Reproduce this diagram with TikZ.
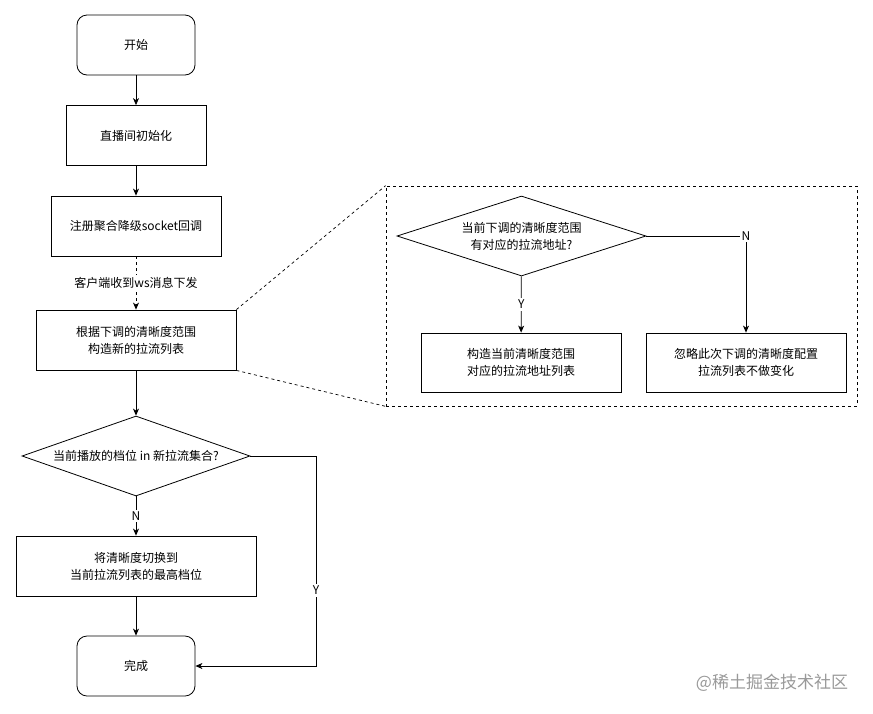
\documentclass[tikz,border=0pt]{standalone}
\usepackage{fontspec}
\newfontfamily\cjk{Noto Sans CJK SC}
\usetikzlibrary{shapes.geometric, arrows.meta, positioning, calc}

\begin{document}
\begin{tikzpicture}[
    x=1pt, y=-1pt,
    every node/.style={font=\cjk\fontsize{12}{17}\selectfont, align=center},
    startstop/.style={draw, rounded corners=10pt, minimum width=118pt, minimum height=60pt, line width=0.8pt},
    block/.style={draw, minimum height=60pt, line width=0.8pt},
    decision/.style={draw, diamond, inner sep=0pt, line width=0.8pt},
    arrow/.style={-{Stealth[length=7pt,width=6pt,inset=2pt]}, line width=0.8pt},
    dasharrow/.style={arrow, dash pattern=on 3pt off 3pt},
    zoomline/.style={line width=0.7pt, dash pattern=on 3pt off 3pt}
]
    \useasboundingbox (0,0) rectangle (873,713);

    % Main flow
    \node[startstop] (start) at (136,45) {开始};
    \node[block, minimum width=140pt] (init) at (136,135.5) {直播间初始化};
    \node[block, minimum width=170pt] (register) at (136,226) {注册聚合降级socket回调};
    \node[block, minimum width=200pt] (construct) at (136,340) {根据下调的清晰度范围\\构造新的拉流列表};
    \node[decision, minimum width=228pt, minimum height=80pt,
          label={center:当前播放的档位 in 新拉流集合?}] (check) at (136,456) {};
    \node[block, minimum width=240pt] (switch) at (136,566) {将清晰度切换到\\当前拉流列表的最高档位};
    \node[startstop] (done) at (136,666) {完成};

    % Zoomed detail
    \node[draw, zoomline, minimum width=471pt, minimum height=220pt] (zoombox) at (621.5,296) {};
    \node[decision, minimum width=249pt, minimum height=80pt,
          label={center:当前下调的清晰度范围\\有对应的拉流地址?}] (hasurl) at (521.5,236) {};
    \node[block, minimum width=200pt, minimum height=59pt] (buildlist) at (521,362.5) {构造当前清晰度范围\\对应的拉流地址列表};
    \node[block, minimum width=200pt, minimum height=59pt] (ignore) at (746,362.5) {忽略此次下调的清晰度配置\\拉流列表不做变化};
    \coordinate (ycorner) at (316,666);

    % Arrows
    \draw[arrow] (start) -- (init);
    \draw[arrow] (init) -- (register);
    \draw[dasharrow] (register) -- node[fill=white, inner sep=2pt] {客户端收到ws消息下发} (construct);
    \draw[arrow] (construct) -- (check);
    \draw[arrow] (check) -- node[fill=white, inner sep=2pt] {N} (switch);
    \draw[arrow] (switch) -- (done);
    \draw[arrow] (check.east) -| node[pos=0.82, fill=white, inner sep=2pt] {Y} (ycorner) -- (done.east);
    \draw[zoomline] (construct.north east) -- (zoombox.north west);
    \draw[zoomline] (construct.south east) -- (zoombox.south west);
    \draw[arrow] (hasurl) -- node[fill=white, inner sep=2pt] {Y} (buildlist);
    \draw[arrow] (hasurl.east) -| node[pos=0.5, fill=white, inner sep=2pt] {N} (ignore.north);

    % Watermark
    \node[text=black!40, font=\cjk\fontsize{17}{20}\selectfont] (mark) at (772,683) {@稀土掘金技术社区};
\end{tikzpicture}
\end{document}
